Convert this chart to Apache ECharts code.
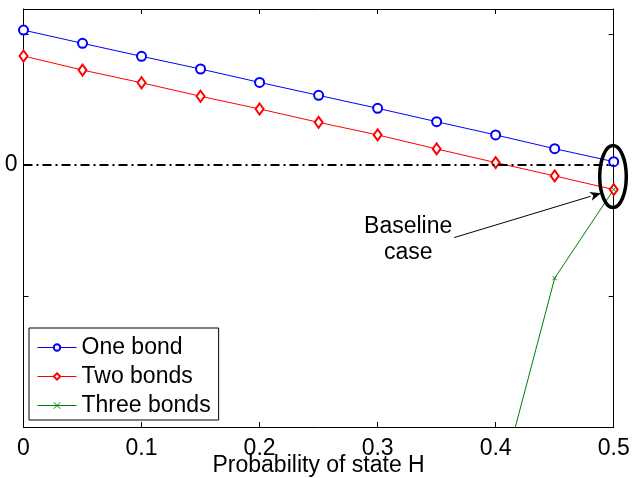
<!DOCTYPE html>
<html><head><meta charset="utf-8">
<script src="https://cdn.jsdelivr.net/npm/echarts@6/dist/echarts.min.js"></script>
<style>html,body{margin:0;padding:0;background:#fff}#c{width:632px;height:478px}</style>
</head><body><div id="c"></div>
<script>
// ---- data ----
const xValues    = [0, 0.05, 0.1, 0.15, 0.2, 0.25, 0.3, 0.35, 0.4, 0.45, 0.5];
const oneBond    = [1.029, 0.928, 0.829, 0.732, 0.630, 0.531, 0.432, 0.330, 0.229, 0.124, 0.025];
const twoBonds   = [0.831, 0.724, 0.627, 0.524, 0.427, 0.325, 0.229, 0.122, 0.018, -0.084, -0.188];
const threeBonds = [null, null, null, null, null, null, null, null, -2.57, -0.864, -0.188];
const zeroLineX  = [0, 0.5];
const zeroLineY  = [0, 0];
const seriesNames = ['One bond', 'Two bonds', 'Three bonds'];
const annotationText = ['Baseline', 'case'];
const xLabel = 'Probability of state H';

const FONT = '"Liberation Sans", Arial, Helvetica, sans-serif';
const FS = 23;
const pairs = (xs, ys) => xs.map((x, i) => [x, ys[i]]);

const chart = echarts.init(document.getElementById('c'), null, {renderer: 'canvas'});
const axisCommon = {
  axisLine: {show: true, onZero: false, lineStyle: {color: '#000', width: 1}},
  axisTick: {show: true, inside: true, length: 5, lineStyle: {color: '#000', width: 1}},
  splitLine: {show: false}
};
chart.setOption({
  animation: false,
  backgroundColor: '#fff',
  textStyle: {fontFamily: FONT},
  grid: {left: 23.5, right: 18.3, top: 9, bottom: 51, containLabel: false, outerBoundsMode: 'none'},
  xAxis: [
    Object.assign({type: 'value', min: 0, max: 0.5, interval: 0.1, position: 'bottom',
      name: xLabel, nameLocation: 'middle', nameGap: 27, nameMoveOverlap: false,
      nameTextStyle: {fontSize: FS, color: '#000', fontFamily: FONT},
      axisLabel: {show: true, margin: 10, fontSize: FS, color: '#000', fontFamily: FONT,
        formatter: v => (v === 0 ? '0' : String(+v.toFixed(2)))}}, axisCommon),
    Object.assign({type: 'value', min: 0, max: 0.5, interval: 0.1, position: 'top',
      axisLabel: {show: false}}, axisCommon)
  ],
  yAxis: [
    Object.assign({type: 'value', min: -2, max: 1.19, interval: 1, position: 'left',
      axisLabel: {show: true, margin: 6, fontSize: FS, color: '#000', fontFamily: FONT,
        formatter: v => (Math.abs(v) < 1e-9 ? '0' : '')}}, axisCommon),
    Object.assign({type: 'value', min: -2, max: 1.19, interval: 1, position: 'right',
      axisLabel: {show: false}}, axisCommon)
  ],
  legend: {
    data: seriesNames,
    orient: 'vertical', left: 29, top: 328,
    backgroundColor: '#fff', borderColor: '#000', borderWidth: 1, borderRadius: 0,
    padding: [8, 8, 3, 8], itemWidth: 39, itemHeight: 8, itemGap: 6,
    lineStyle: {width: 1},
    itemStyle: {borderWidth: 1},
    textStyle: {fontSize: FS, lineHeight: 23, color: '#000', fontFamily: FONT}
  },
  series: [
    {name: seriesNames[0], type: 'line', data: pairs(xValues, oneBond),
     symbol: 'emptyCircle', symbolSize: 9, showAllSymbol: true, clip: true,
     lineStyle: {color: '#0000ff', width: 1}, itemStyle: {color: '#0000ff', borderWidth: 1}},
    {name: seriesNames[1], type: 'line', data: pairs(xValues, twoBonds),
     symbol: 'emptyDiamond', symbolSize: [8, 11], showAllSymbol: true, clip: true,
     lineStyle: {color: '#ff0000', width: 1}, itemStyle: {color: '#ff0000', borderWidth: 1}},
    {name: seriesNames[2], type: 'line', data: pairs(xValues, threeBonds),
     symbol: 'path://M0,0L10,10M10,0L0,10', symbolSize: 4, showAllSymbol: true, clip: true,
     connectNulls: false,
     lineStyle: {color: '#008000', width: 1},
     itemStyle: {color: '#008000', borderColor: '#008000', borderWidth: 1}},
    {name: 'zero', type: 'line', data: pairs(zeroLineX, zeroLineY), symbol: 'none', silent: true,
     z: 5, lineStyle: {color: '#000', width: 2, type: [9, 4, 2, 4]}}
  ]
});

// ---- annotation (ellipse, arrow, text) placed from data coordinates ----
const last = xValues.length - 1;
const pBlue = chart.convertToPixel({gridIndex: 0}, [xValues[last], oneBond[last]]);
const pRed  = chart.convertToPixel({gridIndex: 0}, [xValues[last], twoBonds[last]]);
const cx = pRed[0] - 0.7, cy = (pBlue[1] + pRed[1]) / 2 + 1;
const tip = [pRed[0] - 12.7, pRed[1] + 3.6];
const textC = [pRed[0] - 205.5, pRed[1] + 50.5];
const start = [textC[0] + 46, textC[1] - 2.5];
const ang = Math.atan2(tip[1] - start[1], tip[0] - start[0]);
const hl = 11, hw = 4.5;
const bx = tip[0] - hl * Math.cos(ang), by = tip[1] - hl * Math.sin(ang);
const nx = -Math.sin(ang), ny = Math.cos(ang);
chart.setOption({
  graphic: [
    {type: 'ellipse', shape: {cx: cx, cy: cy, rx: 13.3, ry: 31},
     style: {fill: 'none', stroke: '#000', lineWidth: 3.5}, z: 100},
    {type: 'line', shape: {x1: start[0], y1: start[1], x2: bx, y2: by},
     style: {stroke: '#000', lineWidth: 1}, z: 100},
    {type: 'polygon', shape: {points: [tip, [bx + nx * hw, by + ny * hw], [bx + 3 * Math.cos(ang), by + 3 * Math.sin(ang)], [bx - nx * hw, by - ny * hw]]},
     style: {fill: '#000'}, z: 100},
    {type: 'text', x: textC[0], y: textC[1], z: 100,
     style: {text: annotationText.join('\n'), font: FS + 'px ' + FONT, fill: '#000',
       align: 'center', verticalAlign: 'middle', lineHeight: 26}}
  ]
});
</script>
</body></html>
